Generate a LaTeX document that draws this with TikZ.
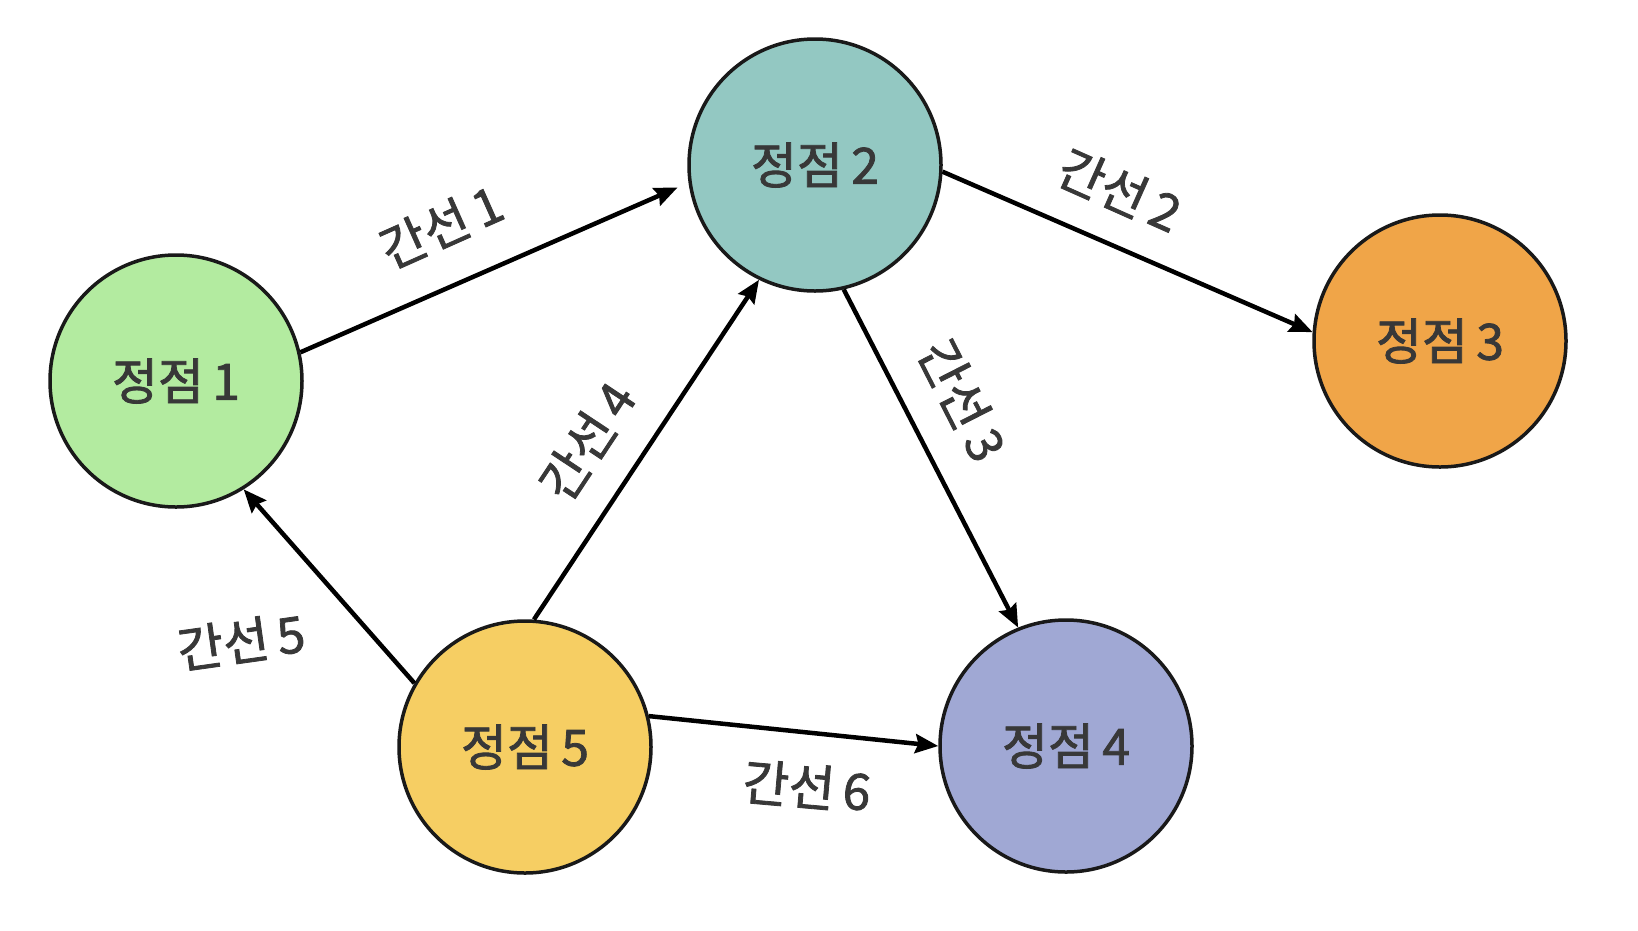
\documentclass[tikz,border=0pt]{standalone}
\usepackage{fontspec}
\newfontfamily\kr[FakeBold=1.6]{Noto Sans CJK KR}
\usetikzlibrary{arrows.meta}
\definecolor{cgreen}{HTML}{B3EBA0}
\definecolor{cteal}{HTML}{93C8C2}
\definecolor{corange}{HTML}{F0A548}
\definecolor{clav}{HTML}{A0A8D4}
\definecolor{cyellow}{HTML}{F6CE63}
\definecolor{ctext}{HTML}{383838}
\tikzset{
  vert/.style={circle, draw=black!90, line width=3.5pt, minimum size=252pt, inner sep=0pt,
    font=\kr\fontsize{50}{56}\selectfont, text=ctext},
  edge/.style={line width=4.5pt, -{Stealth[length=23pt,width=19pt,inset=3pt]}},
  elabel/.style={font=\kr\fontsize{50}{56}\selectfont, text=ctext, inner sep=0pt}
}
\begin{document}
\begin{tikzpicture}[x=1pt,y=-1pt]
\useasboundingbox (0,0) rectangle (1638,930);
\node[vert, fill=cgreen] (v1) at (176,381) {정점\,1};
\node[vert, fill=cteal] (v2) at (815,165) {정점\,2};
\node[vert, fill=corange] (v3) at (1440,341) {정점\,3};
\node[vert, fill=clav] (v4) at (1066,746) {정점\,4};
\node[vert, fill=cyellow] (v5) at (525,747) {정점\,5};
\draw[edge, shorten >=12pt] (v1.13) -- (v2.188.2);
\draw[edge] (v2.-3.2) -- (v3.176.4);
\draw[edge] (v2.-77.1) -- (v4.112.5);
\draw[edge] (v5.86.5) -- (v2.244.4);
\draw[edge] (v5.150.3) -- (v1.-58.9);
\draw[edge] (v5.14.4) -- (v4.180.5);
\node[elabel, rotate=24] (l1) at (441,226) {간선\,1};
\node[elabel, rotate=-24] (l2) at (1120,190) {간선\,2};
\node[elabel, rotate=-63] (l3) at (963,400) {간선\,3};
\node[elabel, rotate=56.5] (l4) at (587,441) {간선\,4};
\node[elabel, rotate=8] (l5) at (241,641) {간선\,5};
\node[elabel, rotate=-5] (l6) at (807,786) {간선\,6};
\end{tikzpicture}
\end{document}
